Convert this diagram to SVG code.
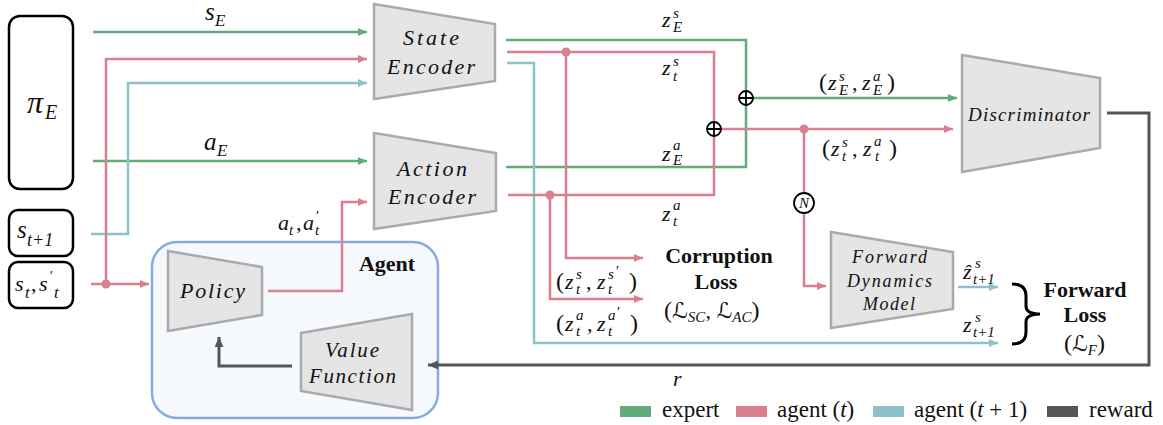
<svg xmlns="http://www.w3.org/2000/svg" width="1163" height="425" viewBox="0 0 1163 425">
<style>
.ln{fill:none;stroke-width:2.5}
.g{stroke:#62ab7b}.p{stroke:#d9808f}.bl{stroke:#8fc1cd}.k{stroke:#555;stroke-width:3}
.trap{fill:#e5e5e5;stroke:#aaa;stroke-width:2.5}
.box{fill:#fff;stroke:#000;stroke-width:2.5}
.it{font-family:"Liberation Serif",serif;font-style:italic;fill:#111}
.m{font-family:"Liberation Serif","DejaVu Sans",serif;font-style:italic;font-size:22px;fill:#111}
.up{font-style:normal}
.sb{font-size:15px}
.bd{font-family:"Liberation Serif",serif;font-weight:bold;font-size:22px;fill:#111}
.lg{font-family:"Liberation Serif",serif;font-size:23px;fill:#111}
</style>
<defs>
<marker id="ag" markerWidth="9" markerHeight="8" refX="9" refY="4" orient="auto" markerUnits="userSpaceOnUse"><path d="M0,0 L9,4 L0,8 z" fill="#62ab7b"/></marker>
<marker id="ap" markerWidth="9" markerHeight="8" refX="9" refY="4" orient="auto" markerUnits="userSpaceOnUse"><path d="M0,0 L9,4 L0,8 z" fill="#d9808f"/></marker>
<marker id="ab" markerWidth="9" markerHeight="8" refX="9" refY="4" orient="auto" markerUnits="userSpaceOnUse"><path d="M0,0 L9,4 L0,8 z" fill="#8fc1cd"/></marker>
<marker id="ak" markerWidth="10" markerHeight="9" refX="10" refY="4.5" orient="auto" markerUnits="userSpaceOnUse"><path d="M0,0 L10,4.5 L0,9 z" fill="#555"/></marker>
</defs>

<g id="agent-box"><rect x="152" y="242" width="286" height="176" rx="25" fill="#f5f9fd" stroke="#89aade" stroke-width="2.5"/>
<text x="387" y="271" class="bd" text-anchor="middle">Agent</text></g>

<g id="connectors">
<path class="ln g" d="M93,32 H367" marker-end="url(#ag)"/>
<path class="ln g" d="M93,161 H367" marker-end="url(#ag)"/>
<path class="ln g" d="M506,40 H746 V167 H506"/>
<path class="ln g" d="M753,98 H957" marker-end="url(#ag)"/>
<path class="ln bl" d="M91,234 H128 V83 H367" marker-end="url(#ab)"/>
<path class="ln bl" d="M507,63 H534 V343 H998" marker-end="url(#ab)"/>
<path class="ln bl" d="M958,287 H998" marker-end="url(#ab)"/>
<path class="ln p" d="M106,284 V59 H367" marker-end="url(#ap)"/>
<path class="ln p" d="M91,284 H149" marker-end="url(#ap)"/>
<path class="ln p" d="M268,291 H342 V202 H367" marker-end="url(#ap)"/>
<path class="ln p" d="M507,52 H714 V195 H508"/>
<path class="ln p" d="M721,129 H953" marker-end="url(#ap)"/>
<path class="ln p" d="M566,52 V258 H643" marker-end="url(#ap)"/>
<path class="ln p" d="M550,195 V299 H643" marker-end="url(#ap)"/>
<path class="ln p" d="M804,129 V193 M804,213 V286 H826" marker-end="url(#ap)"/>
<path class="ln k" d="M1107,113 H1149 V365 H428" marker-end="url(#ak)"/>
<path class="ln k" d="M292,366 H219 V337" marker-end="url(#ak)"/>
<g fill="#d9808f"><circle cx="106" cy="284" r="4.5"/><circle cx="566" cy="52" r="4.5"/><circle cx="550" cy="195" r="4.5"/><circle cx="804" cy="129" r="4.5"/></g>
<g fill="#fff" stroke="#000" stroke-width="1.8"><circle cx="746" cy="98" r="7"/><path d="M739,98 H753 M746,91 V105"/><circle cx="714" cy="129" r="7"/><path d="M707,129 H721 M714,122 V136"/></g>
<circle cx="804" cy="203" r="10" fill="#fff" stroke="#000" stroke-width="1.8"/>
<text x="804" y="208" class="it" font-size="15" text-anchor="middle">N</text>
</g>

<g id="pi-e"><rect class="box" x="9" y="16" width="64" height="173" rx="11"/>
<text class="m"><tspan x="27" y="113" font-size="32">π</tspan><tspan x="45" y="119" font-size="20">E</tspan></text></g>
<g id="s-next"><rect class="box" x="9" y="210" width="64" height="46" rx="9"/>
<text class="m"><tspan x="17" y="238" font-size="25">s</tspan><tspan x="27" y="246" font-size="18">t+1</tspan></text></g>
<g id="s-cur"><rect class="box" x="9" y="262" width="64" height="46" rx="9"/>
<text class="m" font-size="25"><tspan x="15" y="291">s</tspan><tspan x="25" y="298" font-size="17">t</tspan><tspan x="31" y="291" class="up">,</tspan><tspan x="39" y="291">s</tspan><tspan x="49" y="281" font-size="14">′</tspan><tspan x="54" y="298" font-size="17">t</tspan></text></g>

<g id="state-encoder"><polygon class="trap" points="374,4 495,24 495,81 374,99"/>
<text x="403" y="45" class="it" font-size="22" textLength="56">State</text>
<text x="387" y="74" class="it" font-size="22" textLength="88">Encoder</text></g>
<g id="action-encoder"><polygon class="trap" points="374,133 496,153 496,211 374,229"/>
<text x="397" y="176" class="it" font-size="22" textLength="70">Action</text>
<text x="388" y="204" class="it" font-size="22" textLength="88">Encoder</text></g>
<g id="discriminator"><polygon class="trap" points="962,55 1100,78 1100,148 962,172"/>
<text x="968" y="121" class="it" font-size="19" textLength="122">Discriminator</text></g>
<g id="forward-dynamics"><polygon class="trap" points="831,232 953,252 953,309 831,328"/>
<text x="852" y="263" class="it" font-size="18" textLength="75">Forward</text>
<text x="847" y="287" class="it" font-size="18" textLength="85">Dynamics</text>
<text x="863" y="310" class="it" font-size="18" textLength="52">Model</text></g>
<g id="policy"><polygon class="trap" points="168,251 262,267 262,315 168,331"/>
<text x="180" y="298" class="it" font-size="22" textLength="65">Policy</text></g>
<g id="value-function"><polygon class="trap" points="301,333 412,314 412,410 301,391"/>
<text x="325" y="357" class="it" font-size="21" textLength="54">Value</text>
<text x="309" y="383" class="it" font-size="21" textLength="87">Function</text></g>

<g id="labels">
<text class="m"><tspan x="205" y="20" font-size="25">s</tspan><tspan x="215" y="26" font-size="17">E</tspan></text>
<text class="m"><tspan x="204" y="150" font-size="25">a</tspan><tspan x="217" y="156" font-size="17">E</tspan></text>
<text class="m"><tspan x="278" y="230">a</tspan><tspan x="289" y="235" class="sb">t</tspan><tspan x="296" y="230" class="up">,</tspan><tspan x="303" y="230">a</tspan><tspan x="315" y="221" class="sb">′</tspan><tspan x="315" y="235" class="sb">t</tspan></text>
<text class="m"><tspan x="662" y="27">z</tspan><tspan x="673" y="18" class="sb">s</tspan><tspan x="673" y="32" class="sb">E</tspan></text>
<text class="m"><tspan x="662" y="75">z</tspan><tspan x="673" y="66" class="sb">s</tspan><tspan x="673" y="81" class="sb">t</tspan></text>
<text class="m"><tspan x="662" y="161">z</tspan><tspan x="673" y="150" class="sb">a</tspan><tspan x="673" y="165" class="sb">E</tspan></text>
<text class="m"><tspan x="662" y="221">z</tspan><tspan x="673" y="210" class="sb">a</tspan><tspan x="673" y="226" class="sb">t</tspan></text>
<text class="m"><tspan x="819" y="90" class="up" font-size="24">(</tspan><tspan x="828" y="90">z</tspan><tspan x="839" y="81" class="sb">s</tspan><tspan x="839" y="95" class="sb">E</tspan><tspan x="852" y="90" class="up">,</tspan><tspan x="862" y="90">z</tspan><tspan x="873" y="81" class="sb">a</tspan><tspan x="873" y="95" class="sb">E</tspan><tspan x="887" y="90" class="up" font-size="24">)</tspan></text>
<text class="m"><tspan x="822" y="156" class="up" font-size="24">(</tspan><tspan x="831" y="156">z</tspan><tspan x="842" y="147" class="sb">s</tspan><tspan x="842" y="161" class="sb">t</tspan><tspan x="852" y="156" class="up">,</tspan><tspan x="863" y="156">z</tspan><tspan x="874" y="146" class="sb">a</tspan><tspan x="875" y="161" class="sb">t</tspan><tspan x="889" y="156" class="up" font-size="24">)</tspan></text>
<text class="m"><tspan x="556" y="289" class="up" font-size="24">(</tspan><tspan x="565" y="289">z</tspan><tspan x="576" y="279" class="sb">s</tspan><tspan x="576" y="294" class="sb">t</tspan><tspan x="586" y="289" class="up">,</tspan><tspan x="597" y="289">z</tspan><tspan x="608" y="279" class="sb">s</tspan><tspan x="615" y="276" class="sb">′</tspan><tspan x="608" y="294" class="sb">t</tspan><tspan x="629" y="289" class="up" font-size="24">)</tspan></text>
<text class="m"><tspan x="556" y="331" class="up" font-size="24">(</tspan><tspan x="565" y="331">z</tspan><tspan x="576" y="320" class="sb">a</tspan><tspan x="576" y="336" class="sb">t</tspan><tspan x="587" y="331" class="up">,</tspan><tspan x="597" y="331">z</tspan><tspan x="608" y="320" class="sb">a</tspan><tspan x="616" y="317" class="sb">′</tspan><tspan x="608" y="336" class="sb">t</tspan><tspan x="630" y="331" class="up" font-size="24">)</tspan></text>
<text class="m"><tspan x="963" y="279">ẑ</tspan><tspan x="975" y="268" class="sb">s</tspan><tspan x="973" y="284" class="sb">t+1</tspan></text>
<text class="m"><tspan x="963" y="332">z</tspan><tspan x="975" y="322" class="sb">s</tspan><tspan x="973" y="337" class="sb">t+1</tspan></text>
<text x="673" y="386" class="m" font-size="24">r</text>
</g>

<g id="corruption-loss">
<text x="719" y="263" class="bd" text-anchor="middle">Corruption</text>
<text x="716" y="289" class="bd" text-anchor="middle">Loss</text>
<text x="664" y="318" class="m"><tspan class="up" font-size="24">(</tspan>ℒ<tspan dy="4" class="sb">SC</tspan><tspan dy="-4" class="up">, </tspan>ℒ<tspan dy="4" class="sb">AC</tspan><tspan dy="-4" class="up" font-size="24">)</tspan></text>
</g>
<g id="forward-loss">
<path d="M1012,284 Q1026,284 1026,296 V306 Q1026,314 1040,314 Q1026,314 1026,322 V332 Q1026,344 1012,344" fill="none" stroke="#000" stroke-width="3"/>
<text x="1085" y="297" class="bd" text-anchor="middle">Forward</text>
<text x="1085" y="322" class="bd" text-anchor="middle">Loss</text>
<text x="1064" y="351" class="m"><tspan class="up" font-size="24">(</tspan>ℒ<tspan dy="4" class="sb">F</tspan><tspan dy="-4" class="up" font-size="24">)</tspan></text>
</g>

<g id="legend">
<rect x="620" y="406" width="31" height="11" fill="#62ab7b"/><text x="662" y="417" class="lg">expert</text>
<rect x="736" y="406" width="31" height="11" fill="#d9808f"/><text x="777" y="417" class="lg">agent (<tspan font-style="italic">t</tspan>)</text>
<rect x="873" y="406" width="31" height="11" fill="#8fc1cd"/><text x="914" y="417" class="lg">agent (<tspan font-style="italic">t</tspan> + 1)</text>
<rect x="1047" y="406" width="31" height="11" fill="#555"/><text x="1089" y="417" class="lg">reward</text>
</g>
</svg>
